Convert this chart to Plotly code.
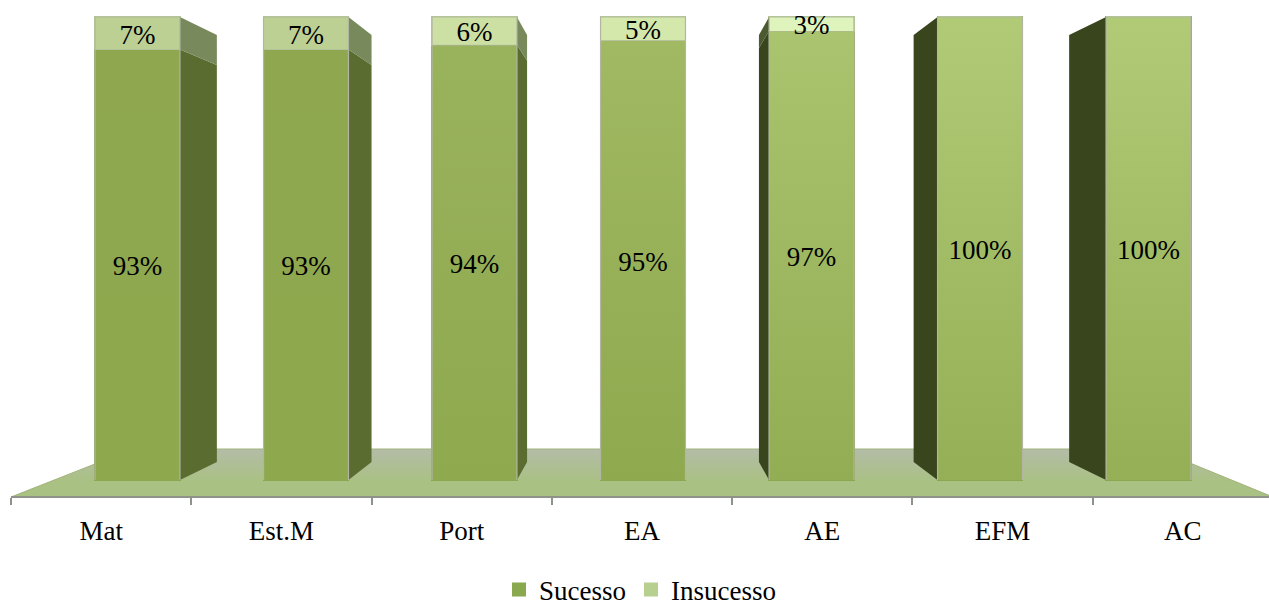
import plotly.graph_objects as go

categories = ["Mat", "Est.M", "Port", "EA", "AE", "EFM", "AC"]
sucesso = [93, 93, 94, 95, 97, 100, 100]
insucesso = [7, 7, 6, 5, 3, 0, 0]
depth = [0.219, 0.137, 0.06, 0.0, -0.06, -0.142, -0.219]

suc_top = ["#8fa850", "#8fa850", "#99b25c", "#a0b962", "#aac46f", "#b1ca76", "#b1ca76"]
suc_bot = ["#8ea84e", "#8ea84e", "#8fa94f", "#8fa94f", "#92ad53", "#94af55", "#94af55"]
ins_col = ["#bcd094", "#bcd094", "#cde0a4", "#d4e8ac", "#dff4bc", "#dff4bc", "#dff4bc"]

FONT = "Liberation Serif"
W, H = 1269, 608
Y_BASE, Y_TOP = 480, 17
UNIT = (Y_BASE - Y_TOP) / 100
BAR_W = 0.504
EDGE = "#b1b5a2"
LABEL_DROP = 0.8

def px_to_val(p):
    return (Y_BASE - p) / UNIT

def back(v):
    return 3.89 + 0.922 * v

fig = go.Figure()

# Floor, on the main axes, so that the bars' overlaid axes draw above it
floor_x = [-0.5, 0.177, 5.85, 6.5]
floor_y = [px_to_val(497), px_to_val(449), px_to_val(449), px_to_val(497)]
fig.add_trace(go.Scatter(
    x=floor_x, y=floor_y, mode="lines", fill="toself",
    line=dict(color="#a3b37c", width=1), showlegend=False, hoverinfo="skip",
    fillgradient=dict(type="vertical", start=floor_y[0], stop=floor_y[1],
                      colorscale=[[0, "#a9c182"], [0.3, "#a9c182"], [1, "#b4bca8"]]),
))
fig.add_trace(go.Scatter(
    x=[-0.5, 6.5], y=[floor_y[0], floor_y[0]], mode="lines",
    line=dict(color="#8f9289", width=2), showlegend=False, hoverinfo="skip",
))

xs = list(range(len(categories)))
fig.add_trace(go.Bar(x=xs, y=sucesso, name="Sucesso", xaxis="x2", width=BAR_W,
                     marker=dict(color="#8aa84d", line=dict(width=2, color="#8aa84d")), hoverinfo="skip"))
fig.add_trace(go.Bar(x=xs, y=insucesso, name="Insucesso", xaxis="x2", width=BAR_W,
                     marker=dict(color="#b8d08f", line=dict(width=2, color="#b8d08f")), hoverinfo="skip"))

for i, (s, n, d) in enumerate(zip(sucesso, insucesso, depth)):
    half = BAR_W / 2
    left, right = i - half, i + half
    # Side faces
    if d != 0:
        edge = right if d > 0 else left
        dark = "#5a6c30" if d > 0 else "#39451c"
        pale = "#788a5c" if d > 0 else "#4b5a30"
        fig.add_trace(go.Scatter(
            x=[edge, edge + d, edge + d, edge],
            y=[0, back(0), back(s), s], mode="lines", fill="toself", fillcolor=dark,
            line=dict(width=0), showlegend=False, hoverinfo="skip", xaxis="x2"))
        if n:
            fig.add_trace(go.Scatter(
                x=[edge, edge + d, edge + d, edge],
                y=[s, back(s), back(s + n), s + n], mode="lines", fill="toself", fillcolor=pale,
                line=dict(width=0), showlegend=False, hoverinfo="skip", xaxis="x2"))
    # Shaded fronts
    fig.add_trace(go.Scatter(
        x=[left, left, right, right], y=[0, s, s, 0], mode="lines", fill="toself",
        line=dict(color=EDGE, width=1.2), showlegend=False, hoverinfo="skip", xaxis="x2",
        fillgradient=dict(type="vertical", start=0, stop=s,
                          colorscale=[[0, suc_bot[i]], [1, suc_top[i]]])))
    if n:
        fig.add_trace(go.Scatter(
            x=[left, left, right, right], y=[s, s + n, s + n, s], mode="lines", fill="toself",
            fillcolor=ins_col[i], line=dict(color=EDGE, width=1.2),
            showlegend=False, hoverinfo="skip", xaxis="x2"))

# Data labels
for vals, base in ((sucesso, [0] * 7), (insucesso, sucesso)):
    kept = [(i, b + v / 2 - LABEL_DROP, f"{v}%") for i, (v, b) in enumerate(zip(vals, base)) if v]
    fig.add_trace(go.Scatter(
        x=[k[0] for k in kept], y=[k[1] for k in kept], text=[k[2] for k in kept],
        mode="text", textposition="middle center",
        textfont=dict(family=FONT, size=27, color="#000000"),
        showlegend=False, hoverinfo="skip", xaxis="x2", cliponaxis=False))

fig.update_layout(
    width=W, height=H, margin=dict(l=0, r=0, t=0, b=0, pad=0, autoexpand=False),
    paper_bgcolor="white", plot_bgcolor="white", barmode="stack",
    font=dict(family=FONT, size=27, color="#000000"),
    xaxis=dict(
        type="linear", range=[-0.561, 6.478], domain=[0, 1],
        anchor="free", position=(H - 497) / H, showgrid=False, zeroline=False, showline=False,
        tickmode="array", tickvals=xs, ticktext=categories,
        ticks="outside", ticklen=10, tickcolor="rgba(0,0,0,0)", tickwidth=1,
        tickfont=dict(family=FONT, size=27, color="#000000"),
        minor=dict(tick0=-0.5, dtick=1, ticks="outside", ticklen=7, tickcolor="#8f9289",
                   tickwidth=2, showgrid=False),
    ),
    xaxis2=dict(type="linear", range=[-0.816, 6.715], overlaying="x", anchor="y", visible=False),
    yaxis=dict(range=[px_to_val(H), px_to_val(0)], domain=[0, 1], visible=False),
    legend=dict(orientation="h",
                x=640 / W, xanchor="center", y=(H - 590) / H, yanchor="middle",
                bgcolor="rgba(0,0,0,0)", font=dict(family=FONT, size=27, color="#000000"),
                traceorder="normal"),
)

fig.write_html("out.html", config=dict(displayModeBar=False),
               post_script="document.body.style.margin='0';document.body.style.overflow='hidden';")
